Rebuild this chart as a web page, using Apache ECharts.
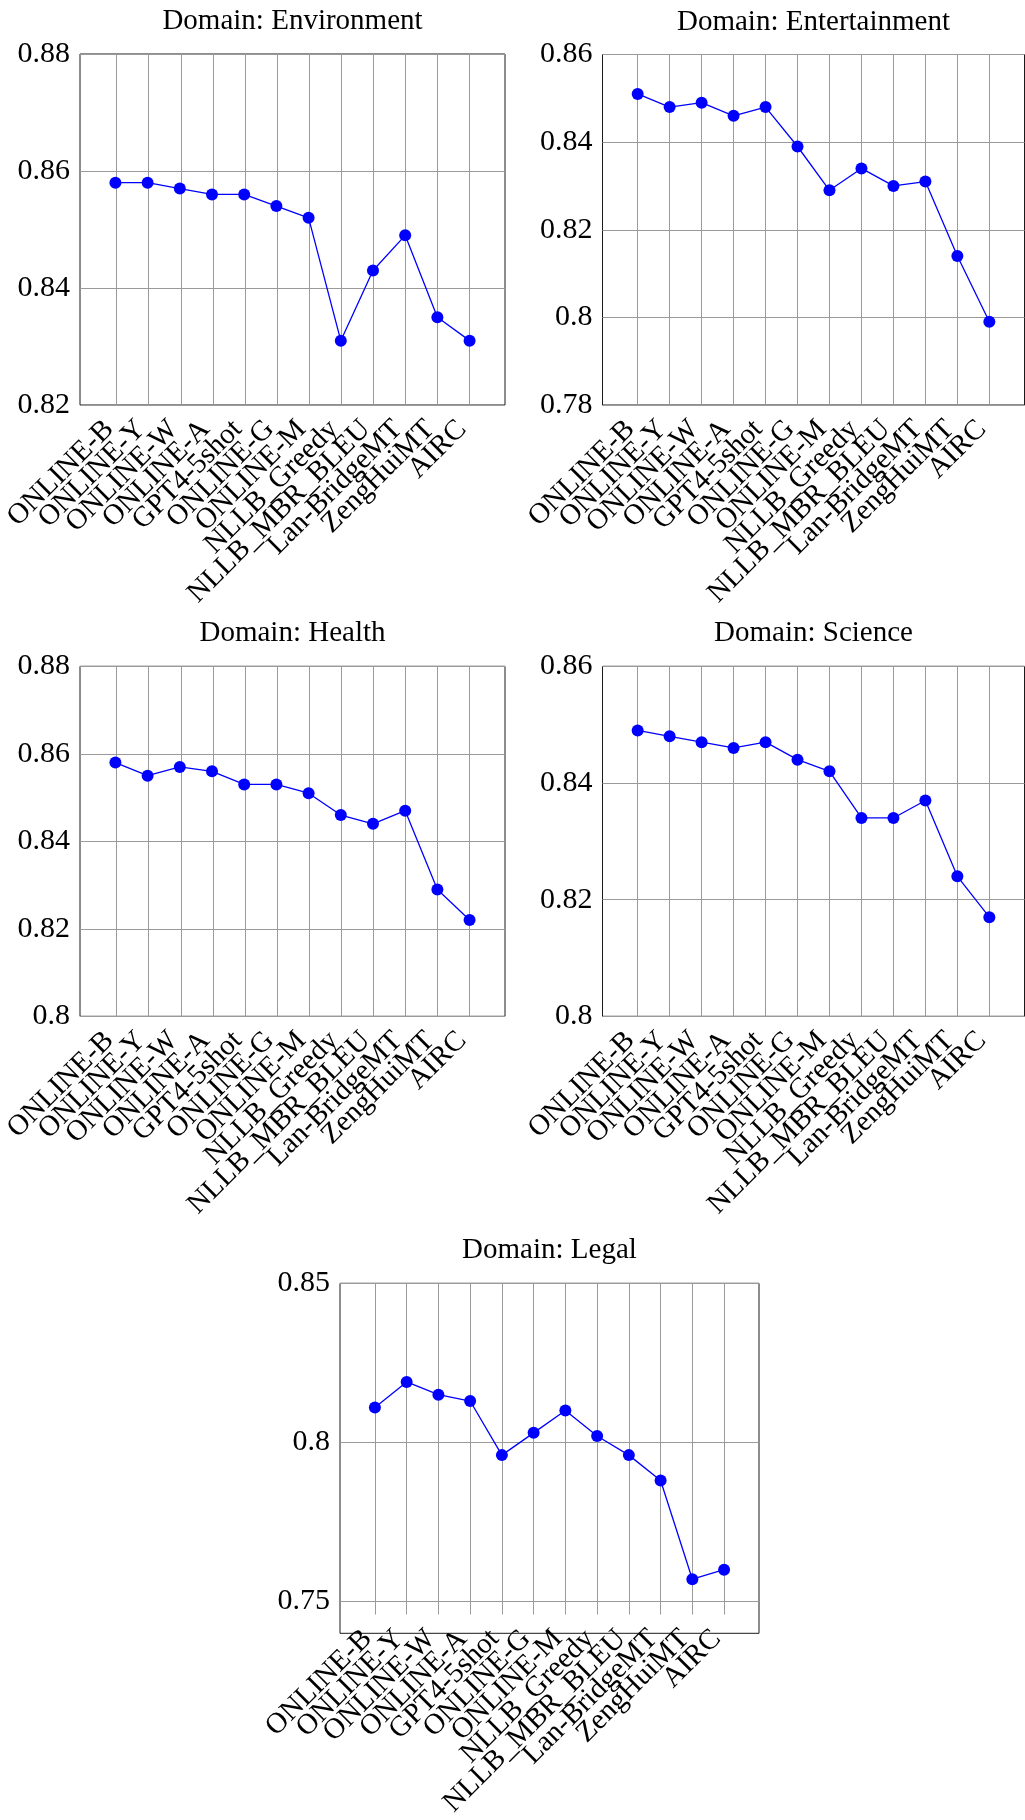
<!DOCTYPE html>
<html><head><meta charset="utf-8">
<script src="https://cdn.jsdelivr.net/npm/echarts@6/dist/echarts.min.js"></script>
<style>html,body{margin:0;padding:0;background:#fff;} #c{width:1025px;height:1820px;}</style>
</head><body><div id="c"></div>
<script>
const categories = ['ONLINE-B','ONLINE-Y','ONLINE-W','ONLINE-A','GPT4-5shot','ONLINE-G','ONLINE-M','NLLB_Greedy','NLLB_MBR_BLEU','Lan-BridgeMT','ZengHuiMT','AIRC'];
const titles = ['Domain: Environment','Domain: Entertainment','Domain: Health','Domain: Science','Domain: Legal'];
const environment = [0.858,0.858,0.857,0.856,0.856,0.854,0.852,0.831,0.843,0.849,0.835,0.831];
const entertainment = [0.851,0.848,0.849,0.846,0.848,0.839,0.829,0.834,0.830,0.831,0.814,0.799];
const health = [0.858,0.855,0.857,0.856,0.853,0.853,0.851,0.846,0.844,0.847,0.829,0.822];
const science = [0.849,0.848,0.847,0.846,0.847,0.844,0.842,0.834,0.834,0.837,0.824,0.817];
const legal = [0.811,0.819,0.815,0.813,0.796,0.803,0.810,0.802,0.796,0.788,0.757,0.760];
const envTicks = [0.82,0.84,0.86,0.88];
const entTicks = [0.78,0.80,0.82,0.84,0.86];
const healthTicks = [0.80,0.82,0.84,0.86,0.88];
const sciTicks = [0.80,0.82,0.84,0.86];
const legalTicks = [0.75,0.80,0.85];
const yRanges = [[0.82,0.88],[0.78,0.86],[0.80,0.88],[0.80,0.86],[0.74,0.85]];

const seriesValues = [environment, entertainment, health, science, legal];
const tickSets = [envTicks, entTicks, healthTicks, sciTicks, legalTicks];

// layout (pixel boxes of each plot frame)
const layout = [
  {left:80, top:54, width:425, height:351},
  {left:602.5, top:54.5, width:422, height:350.5},
  {left:80, top:666.3, width:425, height:350},
  {left:602.5, top:666.3, width:422, height:350},
  {left:340, top:1283.3, width:419, height:350}
];
const FONT = '"Liberation Serif", "Times New Roman", serif';
const pad = 1.1;          // x-range enlargement, in category steps
const GRID_COLOR = '#9a9a9a';

const grid = [], xAxis = [], yAxis = [], series = [], graphic = [];
layout.forEach((L, k) => {
  const step = L.width / (categories.length - 1 + 2 * pad);
  const outer = 2 * k, inner = 2 * k + 1;
  // outer frame grid: border, horizontal grid lines, y labels, and the series
  grid.push({left:L.left, top:L.top, width:L.width, height:L.height, show:true,
    borderColor:'#1a1a1a', borderWidth:1, backgroundColor:'transparent'});
  xAxis.push({type:'value', gridIndex:outer, min:-pad, max:categories.length - 1 + pad, show:false,
    splitLine:{show:false}});
  yAxis.push({
    type:'value', gridIndex:outer, min:yRanges[k][0], max:yRanges[k][1],
    axisLine:{show:false},
    axisTick:{show:false, customValues: tickSets[k]},
    axisLabel:{show:true, customValues: tickSets[k], margin:10,
      showMinLabel:true, showMaxLabel:true,
      formatter: v => String(+Number(v).toFixed(4)),
      color:'#000', fontFamily:FONT, fontSize:30},
    splitLine:{show:true, lineStyle:{color:GRID_COLOR, width:1}}
  });
  // inner grid: category axis spanning first..last category (labels + vertical grid lines)
  grid.push({left:L.left + pad * step, top:L.top, width:L.width - 2 * pad * step, height:L.height, show:false});
  xAxis.push({
    type:'category', gridIndex:inner, data:categories, boundaryGap:false,
    axisLine:{show:false}, axisTick:{show:false},
    axisLabel:{show:true, interval:0, rotate:45, margin:-8,
      align:'right', verticalAlign:'top', padding:[0,25,0,0],
      color:'#000', fontFamily:FONT, fontSize:29},
    splitLine:{show:true, interval:0, lineStyle:{color:GRID_COLOR, width:1}}
  });
  yAxis.push({type:'value', gridIndex:inner, min:0, max:1, show:false, splitLine:{show:false}});
  series.push({
    type:'line', xAxisIndex:outer, yAxisIndex:outer,
    data: seriesValues[k].map((v, i) => [i, v]),
    symbol:'circle', symbolSize:12,
    lineStyle:{color:'#0000ff', width:1.3},
    itemStyle:{color:'#0000ff'},
    z:5
  });
  graphic.push({
    type:'text', x: L.left + L.width/2, y: L.top - 47,
    style:{text: titles[k], fill:'#000', font: '29px ' + FONT, align:'center', verticalAlign:'top'}
  });
});

const chart = echarts.init(document.getElementById('c'), null, {renderer:'canvas'});
chart.setOption({animation:false, backgroundColor:'#fff', grid, xAxis, yAxis, series, graphic});
</script>
</body></html>
